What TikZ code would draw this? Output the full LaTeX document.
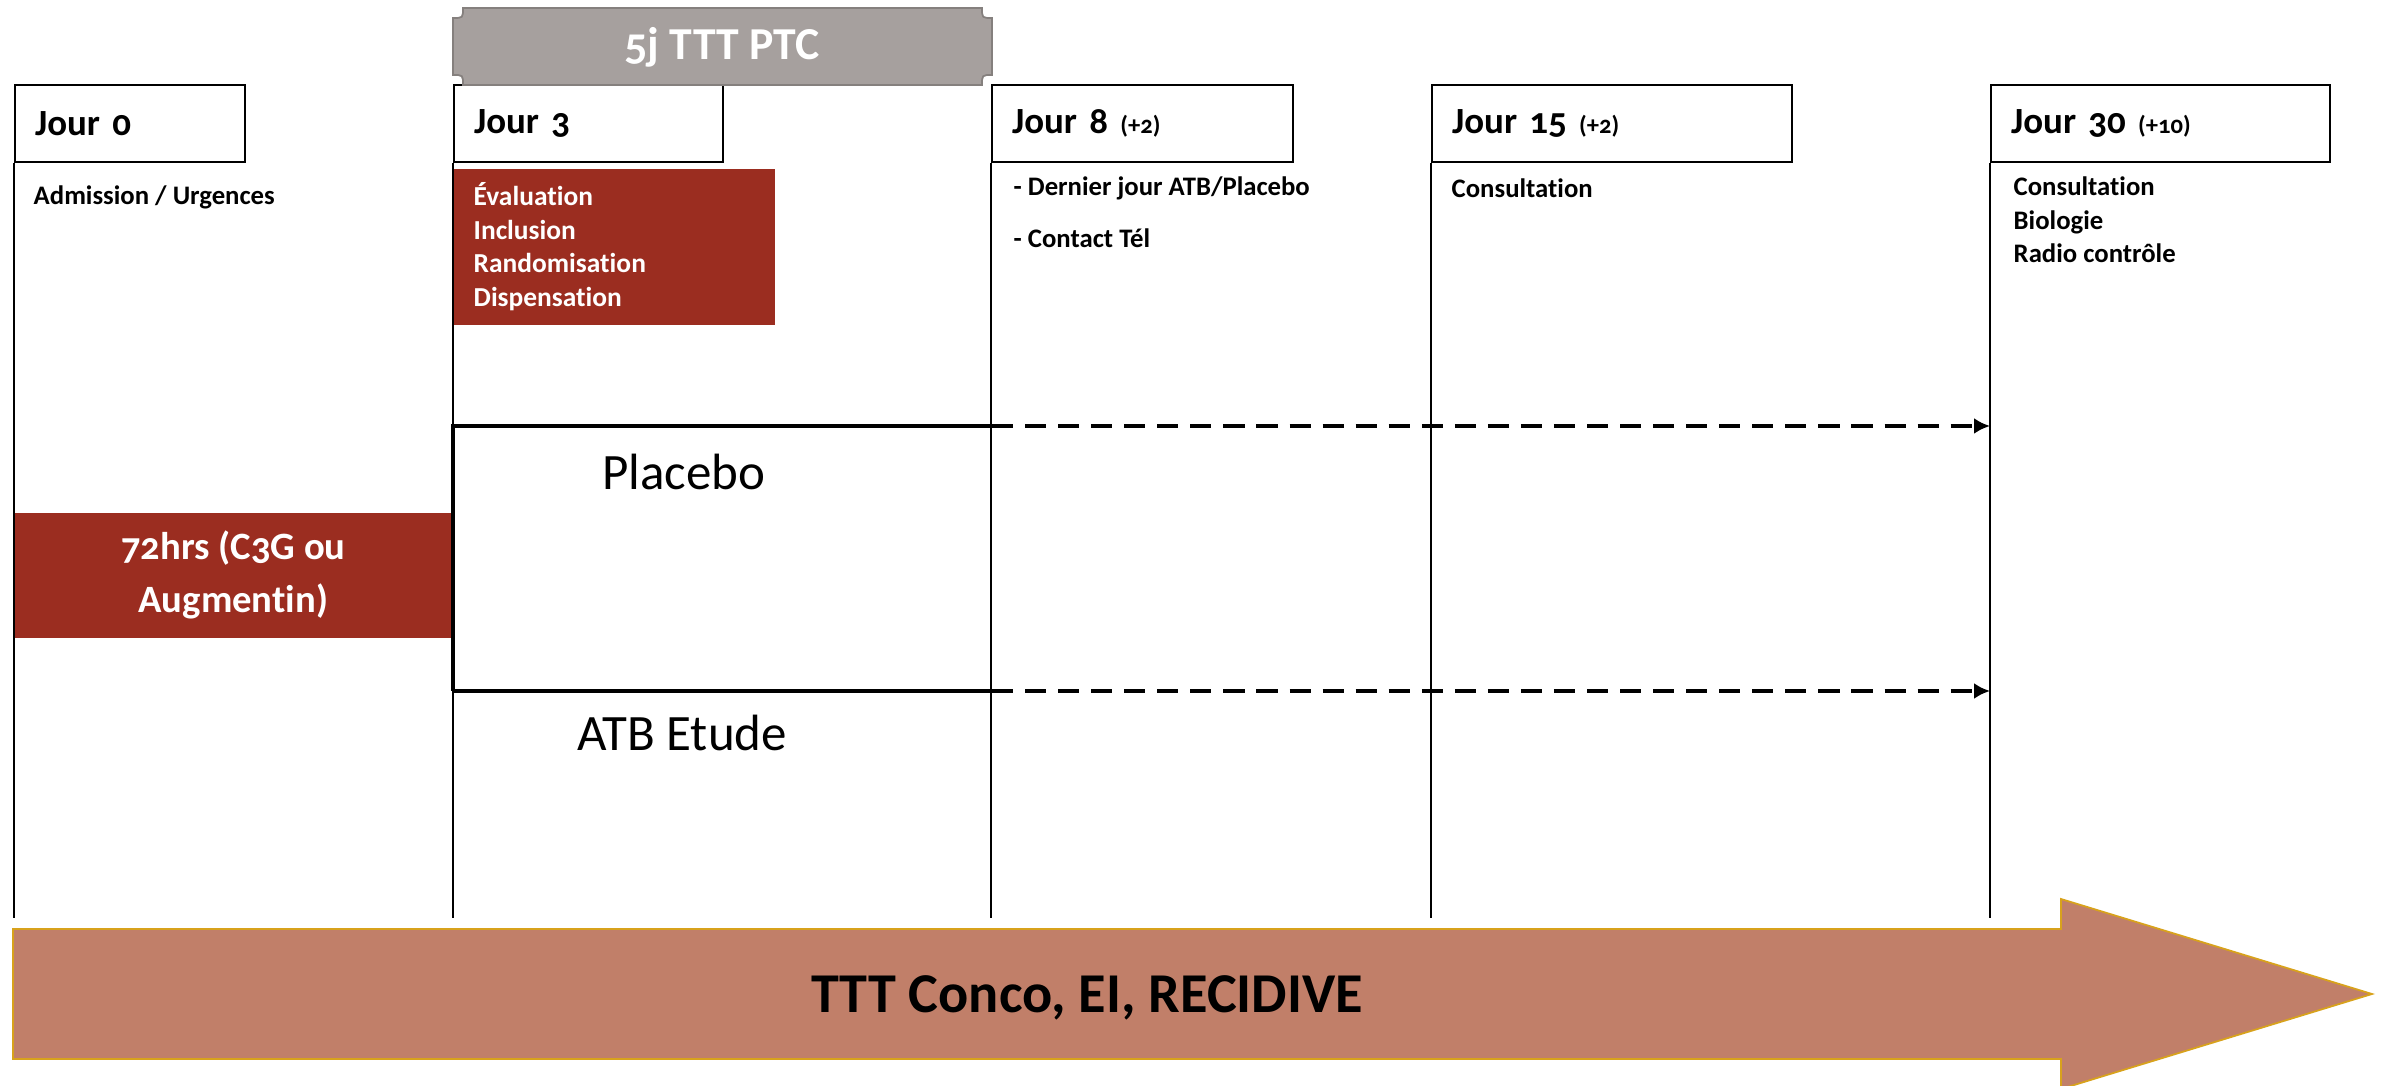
\documentclass[tikz,border=0pt]{standalone}
\usepackage{fontspec}
\setmainfont{Carlito}[Numbers=OldStyle, Ligatures=NoCommon]
\usepackage{tikz}
\usetikzlibrary{positioning,calc,arrows.meta}

\definecolor{brick}{HTML}{9B2D20}
\definecolor{plaque}{HTML}{A6A09E}
\definecolor{plaqueedge}{HTML}{85807E}
\definecolor{band}{HTML}{C17F69}
\definecolor{bandedge}{HTML}{D8A21C}

\tikzset{
  daybox/.style={draw, line width=0.6pt, anchor=north west, minimum height=0.77cm,
    inner xsep=0.2cm, text width=#1, align=left,
    font=\bfseries\fontsize{10.5}{12}\selectfont},
  dayline/.style={line width=0.45pt},
  daytext/.style={anchor=west, inner sep=0pt, align=left,
    font=\bfseries\fontsize{7.6}{9.6}\selectfont},
  redbox/.style={fill=brick, text=white, inner sep=0pt,
    font=\bfseries\fontsize{7.8}{9.5}\selectfont},
  armline/.style={line width=0.95pt},
  followup/.style={line width=0.95pt, dash pattern=on 6pt off 3.4pt,
    -{Latex[length=4.5pt,width=4.5pt]}},
  armtext/.style={font=\fontsize{14.5}{16}\selectfont}
}

\begin{document}
\begin{tikzpicture}[x=0.01cm,y=-0.01cm]
  \useasboundingbox (0,0) rectangle (2382,1086);

  % Day boxes
  \node[daybox=1.90cm] (j0) at (14,84) {Jour 0};
  \node[daybox=2.29cm] (j3) at (453,84) {Jour 3};
  \node[daybox=2.61cm] (j8) at (991,84) {Jour 8 {\fontsize{7}{8}\selectfont(+2)}};
  \node[daybox=3.20cm] (j15) at (1431,84) {Jour 15 {\fontsize{7}{8}\selectfont(+2)}};
  \node[daybox=2.99cm] (j30) at (1990,84) {Jour 30 {\fontsize{7}{8}\selectfont(+10)}};

  % Time lines below the boxes
  \coordinate (base) at (0,918);
  \foreach \d in {j0,j3,j8,j15,j30}
    \draw[dayline] (\d.south west) -- (\d.south west |- base);

  % Treatment banner (plaque)
  \draw[fill=plaque, draw=plaqueedge, line width=0.5pt]
    (453,18) .. controls (463,18) .. (463,8) -- (982,8)
    .. controls (982,18) .. (992,18) -- (992,75)
    .. controls (982,75) .. (982,85) -- (463,85)
    .. controls (463,75) .. (453,75) -- cycle;
  \node[text=white, font=\bfseries\fontsize{13}{15}\selectfont] (ptc) at (722,47) {5j TTT PTC};

  % Texts under the boxes
  \node[daytext] (adm) at (33,197) {Admission / Urgences};
  \node[daytext] (last) at (1013,188) {- Dernier jour ATB/Placebo};
  \node[daytext] (tel) at (1013,238) {- Contact Tél};
  \node[daytext] (cons15) at (1451,188) {Consultation};
  \node[daytext, anchor=north west] (cons30) at (2013,176) {Consultation\\Biologie\\Radio contrôle};

  % Red boxes
  \node[redbox, anchor=north west, minimum width=3.21cm, minimum height=1.56cm,
    text width=2.81cm, inner xsep=0.2cm, align=left] (evalbox) at (453,168)
    {Évaluation\\Inclusion\\Randomisation\\Dispensation};
  \node[redbox, anchor=north west, minimum width=4.37cm, minimum height=1.25cm,
    align=center, font=\bfseries\fontsize{11}{15}\selectfont] (atbbox) at (14,512)
    {72hrs (C3G ou\\Augmentin)};

  % Arms
  \coordinate (pl-a) at (453,426);
  \coordinate (pl-b) at (992,426);
  \coordinate (atb-a) at (453,691);
  \coordinate (atb-b) at (992,691);
  \draw[armline] (atb-a) -- (pl-a) -- (pl-b);
  \draw[armline] (atb-a) -- (atb-b);
  \draw[followup] (pl-b) -- (j30.south west |- pl-b);
  \draw[followup] (atb-b) -- (j30.south west |- atb-b);
  \node[armtext] (plac) at (684,472) {Placebo};
  \node[armtext] (etude) at (682,733) {ATB Etude};

  % Follow-up band
  \draw[fill=band, draw=bandedge, line width=0.5pt]
    (13,929) -- (2061,929) -- (2061,899) -- (2372,994)
    -- (2061,1089) -- (2061,1059) -- (13,1059) -- cycle;
  \node[font=\bfseries\fontsize{16}{18}\selectfont] (band) at (1087,998) {TTT Conco, EI, RECIDIVE};
\end{tikzpicture}
\end{document}
